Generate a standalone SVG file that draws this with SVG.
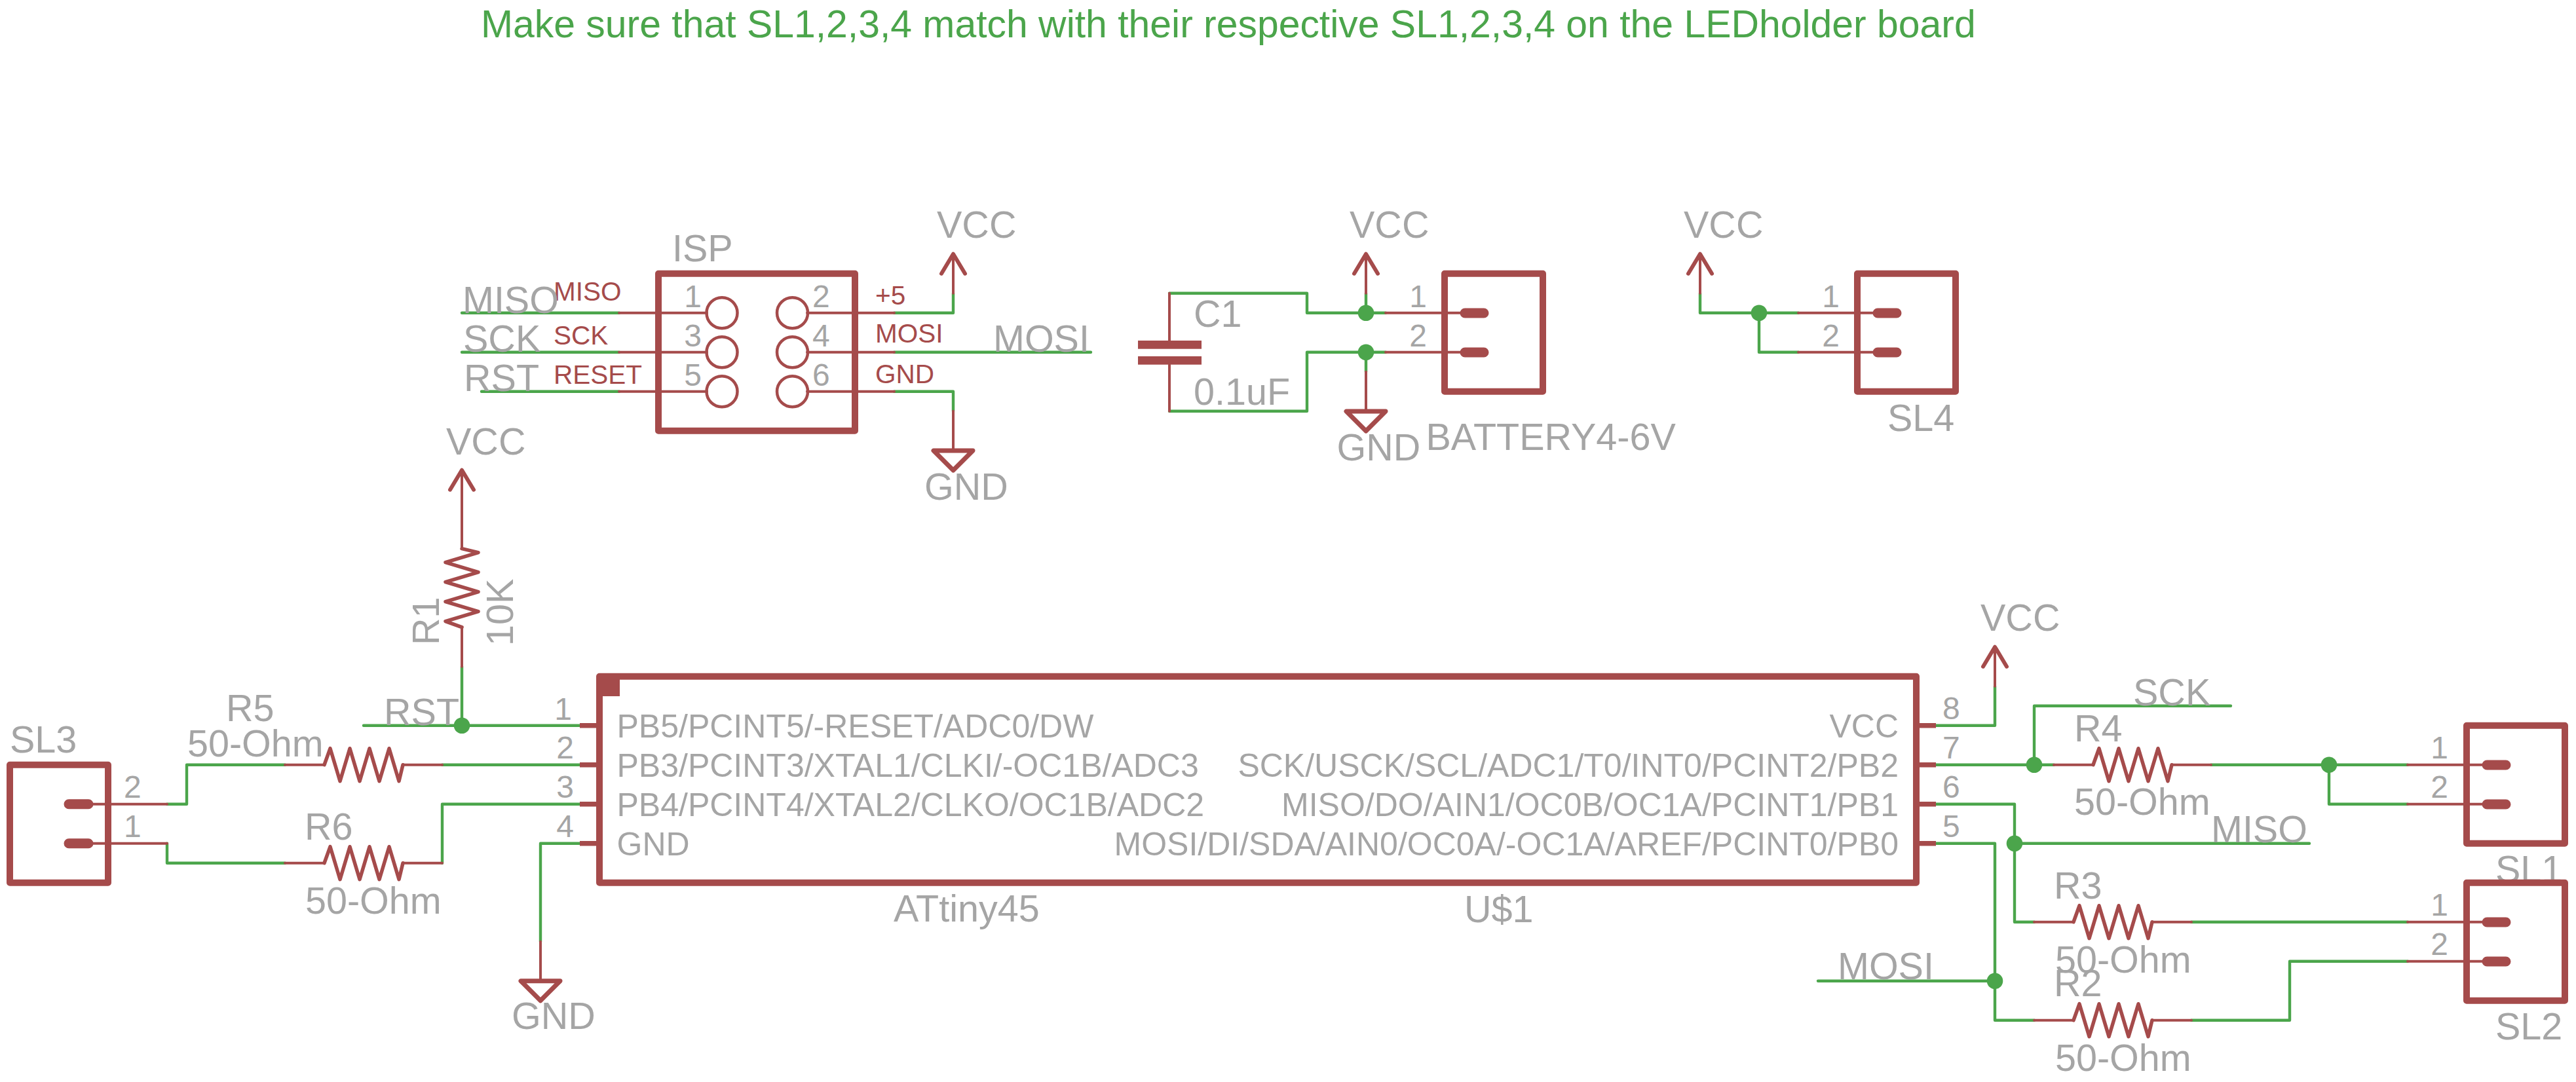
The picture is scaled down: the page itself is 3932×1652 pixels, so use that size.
<svg xmlns="http://www.w3.org/2000/svg" width="3932" height="1652" viewBox="0 0 3932 1652">
<defs>
<style>
text{font-family:"Liberation Sans",Arial,sans-serif;fill:#A5A5A5;font-size:57.5px}
.n{font-size:48px}.p{font-size:50px}.e{text-anchor:end}
.r{fill:#A54B4B;font-size:40.5px}
.t{fill:#4BA54B;font-size:58.9px}
.w,.w path{fill:none;stroke:#4BA54B;stroke-width:4.4;stroke-linecap:round;stroke-linejoin:round}
.l,.l path{fill:none;stroke:#A54B4B;stroke-width:4;stroke-linecap:round;stroke-linejoin:round}
.b{fill:none;stroke:#A54B4B;stroke-width:10;stroke-linejoin:round}
.z{fill:none;stroke:#A54B4B;stroke-width:5.5;stroke-linecap:round;stroke-linejoin:round}
.pad{fill:none;stroke:#A54B4B;stroke-width:15;stroke-linecap:round}
.pin{fill:none;stroke:#A54B4B;stroke-width:7.5}
.c{fill:none;stroke:#A54B4B;stroke-width:4.5}
.sym{fill:none;stroke:#A54B4B;stroke-width:6;stroke-linecap:round;stroke-linejoin:round}
.sg{fill:none;stroke:#A54B4B;stroke-width:7;stroke-linecap:round;stroke-linejoin:round}
.j{fill:#4BA54B}
.plate{fill:#A54B4B}
</style>
<path id="vcc" class="sym" d="M-18 30L0 0L18 30"/>
<path id="gnd" class="sg" d="M-30 0H30L0 30Z"/>
<path id="rh" class="z" d="M0 0L9 -25L24 25L39 -25L54 25L69 -25L84 25L99 -25L114 25L120 0"/>
<path id="rv" class="z" d="M0 0L25 6L-25 21L25 36L-25 51L25 66L-25 81L25 96L-25 111L0 120"/>
</defs>

<text id="title" class="t" x="734" y="57.3">Make sure that SL1,2,3,4 match with their respective SL1,2,3,4 on the LEDholder board</text>

<g id="connectors">
<g class="w">
<path d="M705 477.7H945M705 537.7H945M735 597.7H945"/>
<path d="M1365 477.7H1455V447.7"/>
<path d="M1365 537.7H1665"/>
<path d="M1365 597.7H1455V627.7"/>
<path d="M1785 447.7H1995V477.7H2115"/>
<path d="M2085 477.7V447.7"/>
<path d="M1785 627.7H1995V537.7H2115"/>
<path d="M2085 537.7V567.7"/>
<path d="M2595 447.7V477.7H2745"/>
<path d="M2685 477.7V537.7H2745"/>
<path d="M555 1107.7H885"/>
<path d="M705 1107.7V1017.7"/>
<path d="M885 1167.7H675"/>
<path d="M435 1167.7H285V1227.7H255"/>
<path d="M255 1287.7V1317.7H435"/>
<path d="M675 1317.7V1227.7H885"/>
<path d="M885 1287.7H825V1437.7"/>
<path d="M2955 1107.7H3045V1047.7"/>
<path d="M2955 1167.7H3135"/>
<path d="M3105 1167.7V1077.7H3405"/>
<path d="M3375 1167.7H3675"/>
<path d="M3555 1167.7V1227.7H3675"/>
<path d="M2955 1227.7H3075V1407.7H3105"/>
<path d="M3075 1287.7H3525"/>
<path d="M3345 1407.7H3675"/>
<path d="M2955 1287.7H3045V1557.7H3105"/>
<path d="M2775 1497.7H3045"/>
<path d="M3345 1557.7H3495V1467.7H3675"/>
</g>
<g class="l">
<path d="M1455 447.7V387.7"/>
<path d="M1455 627.7V687.7"/>
<path d="M1785 447.7V520M1785 557V627.7"/>
<path d="M2085 447.7V387.7"/>
<path d="M2085 567.7V627.7"/>
<path d="M2595 447.7V387.7"/>
<path d="M705 1017.7V957.7"/>
<path d="M705 837.7V717.7"/>
<path d="M825 1437.7V1497.7"/>
<path d="M3045 1047.7V987.7"/>
</g>
<circle class="j" cx="2085" cy="477.7" r="12.3"/>
<circle class="j" cx="2085" cy="537.7" r="12.3"/>
<circle class="j" cx="2685" cy="477.7" r="12.3"/>
<circle class="j" cx="705" cy="1107.7" r="12.3"/>
<circle class="j" cx="3105" cy="1167.7" r="12.3"/>
<circle class="j" cx="3555" cy="1167.7" r="12.3"/>
<circle class="j" cx="3075" cy="1287.7" r="12.3"/>
<circle class="j" cx="3045" cy="1497.7" r="12.3"/>
</g>

<g id="ISP">
<rect class="b" x="1005" y="417.7" width="300" height="240"/>
<g class="l"><path d="M945 477.7H1079M945 537.7H1079M945 597.7H1079M1232 477.7H1365M1232 537.7H1365M1232 597.7H1365"/></g>
<circle class="c" cx="1102" cy="477.7" r="23.5"/><circle class="c" cx="1102" cy="537.7" r="23.5"/><circle class="c" cx="1102" cy="597.7" r="23.5"/>
<circle class="c" cx="1209.5" cy="477.7" r="23.5"/><circle class="c" cx="1209.5" cy="537.7" r="23.5"/><circle class="c" cx="1209.5" cy="597.7" r="23.5"/>
<text x="1026" y="399.3">ISP</text>
<text class="n e" x="1071" y="469.3">1</text><text class="n e" x="1071" y="529.3">3</text><text class="n e" x="1071" y="589.3">5</text>
<text class="n" x="1240" y="469.3">2</text><text class="n" x="1240" y="529.3">4</text><text class="n" x="1240" y="589.3">6</text>
<text class="r" x="845" y="459.3">MISO</text><text class="r" x="845" y="525.7">SCK</text><text class="r" x="845" y="585.7">RESET</text>
<text class="r" x="1336" y="465">+5</text><text class="r" x="1336" y="522.7">MOSI</text><text class="r" x="1336" y="585">GND</text>
<text x="706" y="478">MISO</text><text x="707" y="536.7">SCK</text><text x="708" y="597">RST</text>
<text x="1516" y="536.7">MOSI</text>
</g>

<g id="VCC1"><use href="#vcc" x="1455" y="387.7"/><text x="1430" y="363.3">VCC</text></g>
<g id="GND1"><use href="#gnd" x="1455" y="688"/><text x="1411" y="762.7">GND</text></g>

<g id="C1">
<rect class="plate" x="1737" y="520" width="97" height="12.7"/>
<rect class="plate" x="1737" y="544" width="97" height="12.7"/>
<text x="1822" y="499">C1</text>
<text x="1822" y="618.3">0.1uF</text>
</g>

<g id="VCC2"><use href="#vcc" x="2085" y="387.7"/><text x="2060" y="363.3">VCC</text></g>
<g id="GND2"><use href="#gnd" x="2085" y="628"/><text x="2040.5" y="702.5">GND</text></g>

<g id="BATTERY">
<rect class="b" x="2205" y="417.7" width="150" height="180"/>
<g class="l"><path d="M2115 477.7H2235M2115 537.7H2235"/></g>
<path class="pad" d="M2236 478H2265M2236 538H2265"/>
<text class="n e" x="2178" y="469.3">1</text><text class="n e" x="2178" y="529.3">2</text>
<text x="2176.5" y="687.3">BATTERY4-6V</text>
</g>

<g id="VCC3"><use href="#vcc" x="2595" y="387.7"/><text x="2570" y="363.3">VCC</text></g>

<g id="SL4">
<rect class="b" x="2835" y="417.7" width="150" height="180"/>
<g class="l"><path d="M2745 477.7H2865M2745 537.7H2865"/></g>
<path class="pad" d="M2866 478H2895M2866 538H2895"/>
<text class="n e" x="2808" y="469.3">1</text><text class="n e" x="2808" y="529.3">2</text>
<text x="2881" y="657.7">SL4</text>
</g>

<g id="VCC4"><use href="#vcc" x="705" y="717.7"/><text x="681" y="694">VCC</text></g>

<g id="R1">
<use href="#rv" x="705" y="837.7"/>
<text transform="translate(670 985) rotate(-90)">R1</text>
<text transform="translate(782.7 986) rotate(-90)">10K</text>
</g>

<g id="U1">
<rect class="b" x="915" y="1032.7" width="2010" height="315"/>
<rect class="plate" x="915" y="1033" width="31" height="30"/>
<path class="pin" d="M885 1107.7H915M885 1167.7H915M885 1227.7H915M885 1287.7H915M2925 1107.7H2955M2925 1167.7H2955M2925 1227.7H2955M2925 1287.7H2955"/>
<text class="n e" x="873" y="1099.2">1</text><text class="n e" x="876" y="1158.4">2</text><text class="n e" x="876" y="1218">3</text><text class="n e" x="876" y="1278.4">4</text>
<text class="n" x="2965" y="1097.6">8</text><text class="n" x="2965" y="1158">7</text><text class="n" x="2965" y="1217.5">6</text><text class="n" x="2965" y="1277.5">5</text>
<text class="p" x="941.5" y="1125.7">PB5/PCINT5/-RESET/ADC0/DW</text>
<text class="p" x="941.5" y="1185.7">PB3/PCINT3/XTAL1/CLKI/-OC1B/ADC3</text>
<text class="p" x="941.5" y="1245.7">PB4/PCINT4/XTAL2/CLKO/OC1B/ADC2</text>
<text class="p" x="941.5" y="1305.7">GND</text>
<text class="p e" x="2898" y="1125.7">VCC</text>
<text class="p e" x="2898" y="1185.7">SCK/USCK/SCL/ADC1/T0/INT0/PCINT2/PB2</text>
<text class="p e" x="2898" y="1245.7">MISO/DO/AIN1/OC0B/OC1A/PCINT1/PB1</text>
<text class="p e" x="2898" y="1305.7">MOSI/DI/SDA/AIN0/OC0A/-OC1A/AREF/PCINT0/PB0</text>
<text x="1364" y="1407.3">ATtiny45</text>
<text x="2235" y="1408">U$1</text>
<text x="586" y="1107">RST</text>
</g>

<g id="GND3"><use href="#gnd" x="825" y="1497.7"/><text x="781" y="1571">GND</text></g>

<g id="SL3">
<rect class="b" x="15" y="1167.7" width="150" height="180"/>
<g class="l"><path d="M135 1227.7H255M135 1287.7H255"/></g>
<path class="pad" d="M105 1227.7H135M105 1287.7H135"/>
<text x="15" y="1149">SL3</text>
<text class="n" x="189" y="1218.4">2</text><text class="n" x="189" y="1278.4">1</text>
</g>

<g id="R5">
<g class="l"><path d="M435 1167.7H495M615 1167.7H675"/></g>
<use href="#rh" x="495" y="1167.7"/>
<text x="345" y="1101">R5</text><text x="286" y="1155">50-Ohm</text>
</g>
<g id="R6">
<g class="l"><path d="M435 1317.7H495M615 1317.7H675"/></g>
<use href="#rh" x="495" y="1317.7"/>
<text x="465" y="1281.6">R6</text><text x="466" y="1395">50-Ohm</text>
</g>

<g id="VCC5"><use href="#vcc" x="3045" y="987.7"/><text x="3023" y="963.3">VCC</text></g>

<g id="R4">
<g class="l"><path d="M3135 1167.7H3195M3315 1167.7H3375"/></g>
<use href="#rh" x="3195" y="1167.7"/>
<text x="3166" y="1131.6">R4</text><text x="3166" y="1244.4">50-Ohm</text>
</g>
<g id="R3">
<g class="l"><path d="M3105 1407.7H3165M3285 1407.7H3345"/></g>
<use href="#rh" x="3165" y="1407.7"/>
<text x="3135" y="1371.5">R3</text><text x="3137" y="1485">50-Ohm</text>
</g>
<g id="R2">
<g class="l"><path d="M3105 1557.7H3165M3285 1557.7H3345"/></g>
<use href="#rh" x="3165" y="1557.7"/>
<text x="3135" y="1521">R2</text><text x="3137" y="1635">50-Ohm</text>
</g>

<text id="label-sck" x="3256" y="1076.5">SCK</text>
<text id="label-miso" x="3375" y="1286">MISO</text>
<text id="label-mosi" x="2805" y="1495">MOSI</text>

<g id="SL1">
<rect class="b" x="3765" y="1107.7" width="150" height="180"/>
<g class="l"><path d="M3675 1167.7H3795M3675 1227.7H3795"/></g>
<path class="pad" d="M3796 1168H3825M3796 1228H3825"/>
<text class="n e" x="3737" y="1158">1</text><text class="n e" x="3737" y="1218">2</text>
<text x="3809" y="1347">SL1</text>
</g>
<g id="SL2">
<rect class="b" x="3765" y="1347.7" width="150" height="180"/>
<g class="l"><path d="M3675 1407.7H3795M3675 1467.7H3795"/></g>
<path class="pad" d="M3796 1408H3825M3796 1468H3825"/>
<text class="n e" x="3737" y="1398">1</text><text class="n e" x="3737" y="1458">2</text>
<text x="3809" y="1587">SL2</text>
</g>
</svg>
